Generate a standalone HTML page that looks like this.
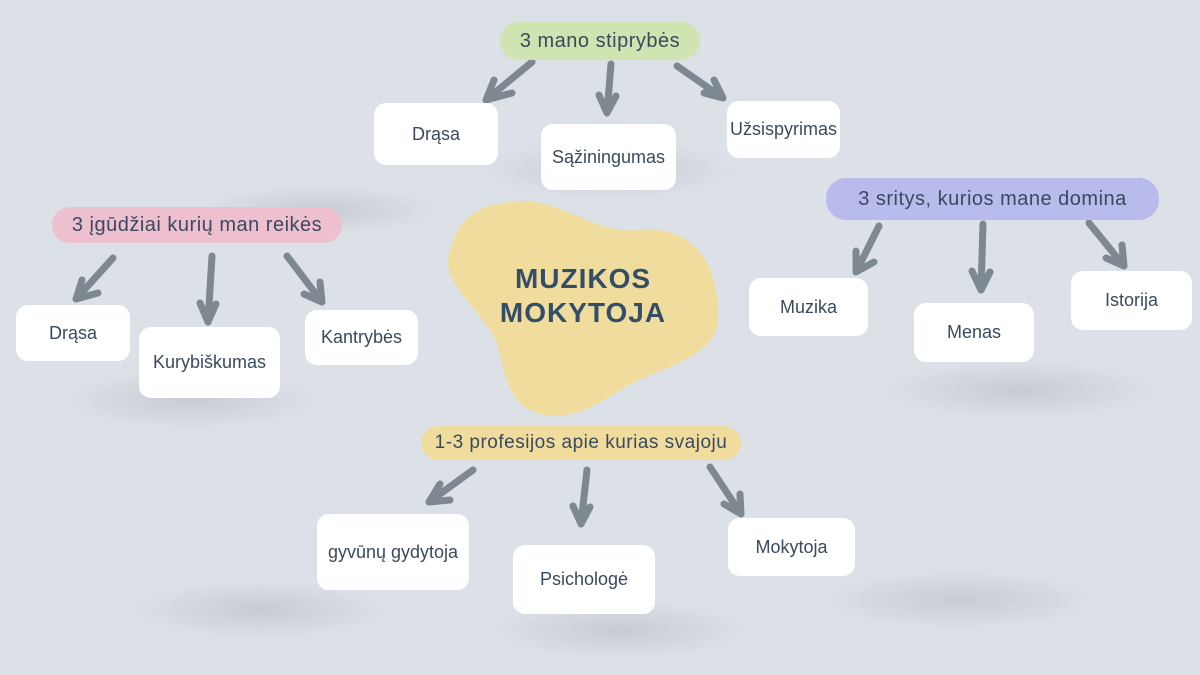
<!DOCTYPE html>
<html><head><meta charset="utf-8"><style>
body{margin:0;width:1200px;height:675px;background:#dce0e7;position:relative;overflow:hidden;font-family:"Liberation Sans",sans-serif;color:#3a4a5e}
.b{position:absolute;background:#fff;border-radius:12px;display:flex;align-items:center;justify-content:center;font-size:18px;box-sizing:border-box}
.p{position:absolute;border-radius:20px;display:flex;align-items:center;justify-content:center;font-size:20px;letter-spacing:0.5px}
.sh{position:absolute;border-radius:50%;background:radial-gradient(ellipse at center,rgba(160,166,176,.35),rgba(220,224,231,0) 70%)}
svg{position:absolute;left:0;top:0}
</style></head><body>
<div class="sh" style="left:480px;top:140px;width:260px;height:60px"></div>
<div class="sh" style="left:200px;top:185px;width:240px;height:50px"></div>
<div class="sh" style="left:60px;top:370px;width:260px;height:60px"></div>
<div class="sh" style="left:880px;top:360px;width:280px;height:60px"></div>
<div class="sh" style="left:130px;top:580px;width:260px;height:60px"></div>
<div class="sh" style="left:490px;top:600px;width:260px;height:60px"></div>
<div class="sh" style="left:820px;top:570px;width:280px;height:60px"></div>
<svg width="1200" height="675">
<path d="M510,202 C560,195 590,235 640,230 C690,225 720,260 718,320 C716,360 650,370 620,390 C590,410 560,425 530,410 C500,395 505,350 490,330 C470,300 440,280 450,250 C460,215 480,205 510,202 Z" fill="#f0dd9d"/>
<g stroke="#7d8891" stroke-width="7" stroke-linecap="round" fill="none" stroke-linejoin="round">
<path d="M532,62 L486,100 M486,100 L512,93 M486,100 L494,80"/>
<path d="M611,64 L607,113 M607,113 L599,95 M607,113 L616,96"/>
<path d="M677,66 L723,98 M723,98 L704,93 M723,98 L714,80"/>
<path d="M113,258 L76,299 M76,299 L98,293 M76,299 L82,280"/>
<path d="M212,256 L208,322 M208,322 L200,303 M208,322 L216,304"/>
<path d="M287,256 L322,302 M322,302 L304,294 M322,302 L320,282"/>
<path d="M879,226 L856,272 M856,272 L874,262 M856,272 L856,251"/>
<path d="M983,224 L981,290 M981,290 L972,271 M981,290 L990,272"/>
<path d="M1089,223 L1124,266 M1124,266 L1106,258 M1124,266 L1122,245"/>
<path d="M473,470 L429,502 M429,502 L450,500 M429,502 L440,484"/>
<path d="M587,470 L581,524 M581,524 L573,506 M581,524 L590,507"/>
<path d="M710,467 L741,514 M741,514 L724,504 M741,514 L740,494"/>
</g>
</svg>
<div style="position:absolute;left:448px;top:262px;width:270px;text-align:center;font-size:28px;font-weight:bold;line-height:34px;color:#344e68;letter-spacing:1px">MUZIKOS<br>MOKYTOJA</div>
<div class="p" style="left:500px;top:22px;width:200px;height:38px;background:#cfe4b0">3 mano stiprybės</div>
<div class="p" style="left:52px;top:207px;width:290px;height:36px;background:#eec0cf">3 įgūdžiai kurių man reikės</div>
<div class="p" style="left:826px;top:178px;width:333px;height:42px;background:#b8bbec">3 sritys, kurios mane domina</div>
<div class="p" style="left:421px;top:426px;width:320px;height:34px;background:#f0dc9c;font-size:19px">1-3 profesijos apie kurias svajoju</div>
<div class="b" style="left:374px;top:103px;width:124px;height:62px">Drąsa</div>
<div class="b" style="left:541px;top:124px;width:135px;height:66px">Sąžiningumas</div>
<div class="b" style="left:727px;top:101px;width:113px;height:57px">Užsispyrimas</div>
<div class="b" style="left:16px;top:305px;width:114px;height:56px">Drąsa</div>
<div class="b" style="left:139px;top:327px;width:141px;height:71px">Kurybiškumas</div>
<div class="b" style="left:305px;top:310px;width:113px;height:55px">Kantrybės</div>
<div class="b" style="left:749px;top:278px;width:119px;height:58px">Muzika</div>
<div class="b" style="left:914px;top:303px;width:120px;height:59px">Menas</div>
<div class="b" style="left:1071px;top:271px;width:121px;height:59px">Istorija</div>
<div class="b" style="left:317px;top:514px;width:152px;height:76px">gyvūnų gydytoja</div>
<div class="b" style="left:513px;top:545px;width:142px;height:69px">Psichologė</div>
<div class="b" style="left:728px;top:518px;width:127px;height:58px">Mokytoja</div>
</body></html>
